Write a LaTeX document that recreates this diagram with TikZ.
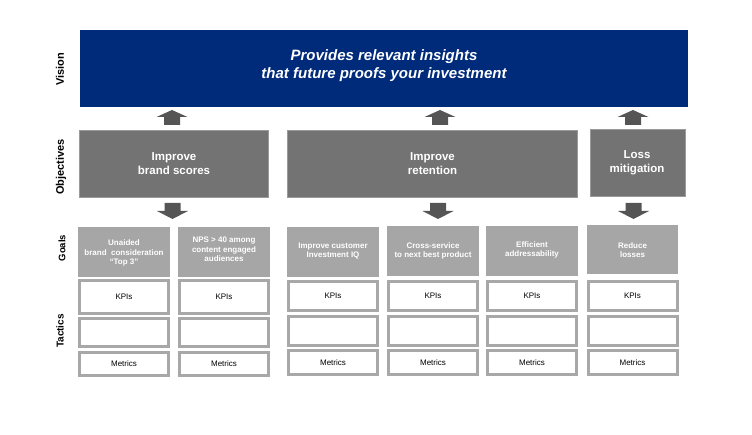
\documentclass[tikz,border=0pt]{standalone}
\usepackage{fontspec}
\setmainfont{Liberation Sans}
\definecolor{navy}{HTML}{002A7A}
\definecolor{objgray}{HTML}{737373}
\definecolor{objline}{HTML}{9A9A9A}
\definecolor{goalgray}{HTML}{A6A6A6}
\definecolor{tacline}{HTML}{A8A8A8}
\definecolor{arrgray}{HTML}{555555}
\begin{document}
\begin{tikzpicture}[x=1pt,y=-1pt,
  box/.style={rectangle,inner sep=0pt,outer sep=0pt},
  visionbox/.style={box,fill=navy},
  objbox/.style={box,fill=objgray,draw=objline,line width=1pt,minimum height=67pt},
  goalbox/.style={box,fill=goalgray},
  tacbox/.style={box,fill=white,draw=tacline,line width=3pt,minimum width=89pt,
     font=\fontsize{8}{9.5}\selectfont},
  sidelbl/.style={rotate=90,font=\bfseries,inner sep=0pt},
  visiontxt/.style={text=white,align=center,inner sep=0pt,
     font=\fontsize{15}{18}\selectfont\bfseries\itshape},
  objtxt/.style={text=white,align=center,inner sep=0pt,
     font=\fontsize{11.5}{14}\selectfont\bfseries},
  goaltxt/.style={text=white,align=center,inner sep=0pt,
     font=\fontsize{8}{9.5}\selectfont\bfseries},
  uparrow/.pic={\fill[arrgray] (-8,15)--(-8,7)--(-15.5,7)--(0,0)--(15.5,7)--(8,7)--(8,15)--cycle;},
  downarrow/.pic={\fill[arrgray] (-8,0)--(-8,8)--(-15.5,8)--(0,16)--(15.5,8)--(8,8)--(8,0)--cycle;}
]
\useasboundingbox (0,0) rectangle (752,435);

% side labels
\node[sidelbl,font=\fontsize{11}{13}\selectfont\bfseries] (lv) at (60,69) {Vision};
\node[sidelbl,font=\fontsize{11}{13}\selectfont\bfseries] (lo) at (61,167) {Objectives};
\node[sidelbl,font=\fontsize{9.5}{11}\selectfont\bfseries] (lg) at (62,248) {Goals};
\node[sidelbl,font=\fontsize{10}{12}\selectfont\bfseries] (lt) at (60,331) {Tactics};

% vision
\node[visionbox,minimum width=608pt,minimum height=77pt] (vis) at (384,68.5) {};
\node[visiontxt] (vist) at (384,65.5) {Provides relevant insights\\that future proofs your investment};

% objectives
\node[objbox,minimum width=189pt] (o1) at (174,164) {};
\node[objbox,minimum width=290pt] (o2) at (432.5,164) {};
\node[objbox,minimum width=95pt] (o3) at (638,163) {};
\node[objtxt] (o1t) at (174,164) {Improve\\brand scores};
\node[objtxt] (o2t) at (432.5,164) {Improve\\retention};
\node[objtxt] (o3t) at (637,162.5) {Loss\\mitigation};

% arrows up
\pic at (172,110) {uparrow};
\pic at (440,110) {uparrow};
\pic at (633,110) {uparrow};
% arrows down
\pic at (172.5,203) {downarrow};
\pic at (438,203) {downarrow};
\pic at (633.5,203) {downarrow};

% goals
\node[goalbox,minimum width=92pt,minimum height=50pt] (g1) at (124,252) {};
\node[goalbox,minimum width=92pt,minimum height=50pt] (g2) at (224,252) {};
\node[goalbox,minimum width=92pt,minimum height=50pt] (g3) at (333,252) {};
\node[goalbox,minimum width=92pt,minimum height=50pt] (g4) at (433,251) {};
\node[goalbox,minimum width=92pt,minimum height=50pt] (g5) at (532,251) {};
\node[goalbox,minimum width=91pt,minimum height=49pt] (g6) at (632.5,249.5) {};
\node[goaltxt] (g1t) at (124,253) {Unaided\\brand~~consideration\\``Top 3''};
\node[goaltxt] (g2t) at (224,249.5) {NPS > 40 among\\content engaged\\audiences};
\node[goaltxt] (g3t) at (333,251) {Improve customer\\Investment IQ};
\node[goaltxt] (g4t) at (433,251) {Cross-service\\to next best product};
\node[goaltxt] (g5t) at (532,250) {Efficient\\addressability};
\node[goaltxt] (g6t) at (632.5,250) {Reduce\\losses};

% tactics columns 1-2
\foreach \c/\x in {1/124,2/224}{
  \node[tacbox,minimum height=33pt] (k\c) at (\x,297) {KPIs};
  \node[tacbox,minimum height=28pt] (b\c) at (\x,332.5) {};
  \node[tacbox,minimum height=23pt] (m\c) at (\x,364) {Metrics};
}
% tactics columns 3-6
\foreach \c/\x in {3/333,4/433,5/532,6/632.5}{
  \node[tacbox,minimum height=29pt] (k\c) at (\x,296) {KPIs};
  \node[tacbox,minimum height=29pt] (b\c) at (\x,331) {};
  \node[tacbox,minimum height=24pt] (m\c) at (\x,362.5) {Metrics};
}
\end{tikzpicture}
\end{document}
